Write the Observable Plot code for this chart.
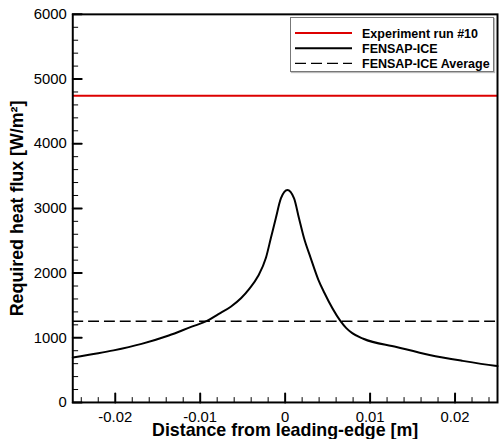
<!DOCTYPE html>
<html>
<head>
<meta charset="utf-8">
<script src="https://cdn.jsdelivr.net/npm/d3@7"></script>
<script src="https://cdn.jsdelivr.net/npm/@observablehq/plot@0.6"></script>
<style>
  html, body { margin: 0; padding: 0; overflow: hidden; background: #fff; }
  #wrap { position: relative; width: 499px; height: 443px; overflow: hidden; font-family: "Liberation Sans", Arial, sans-serif; }
  #legend { position: absolute; left: 290px; top: 17px; width: 204px; height: 55px; box-sizing: border-box; border: 1px solid #777; background: #fff; box-shadow: 1px 1px 1px #bbb; }
  #legend svg { display: block; }
</style>
</head>
<body>
<div id="wrap"></div>
<script>
// Data
const distance = [-0.025, -0.022, -0.0202, -0.0169, -0.0137, -0.011, -0.0092, -0.0079, -0.0064, -0.0052, -0.0042, -0.0032, -0.00226, -0.00168, -0.0011, -0.0005, 0.00027, 0.00105, 0.00163, 0.00222, 0.003, 0.0039, 0.0046, 0.0065, 0.0072, 0.0079, 0.0092, 0.0131, 0.017, 0.0209, 0.0247, 0.025];
const heatFlux = [694, 760, 805, 906, 1035, 1172, 1260, 1362, 1480, 1610, 1760, 1950, 2236, 2542, 2848, 3155, 3285, 3155, 2848, 2542, 2236, 1900, 1700, 1262, 1150, 1072, 985, 858, 735, 643, 567, 562];
const experimentValue = 4740;
const averageValue = 1256;
const xMajorTicks = [-0.02, -0.01, 0, 0.01, 0.02];
const xMinorTicks = d3.range(-24, 25, 2).map(d => d / 1000).filter(d => Math.abs(Math.round(d * 1000)) % 10 !== 0);
const yMajorTicks = [0, 1000, 2000, 3000, 4000, 5000, 6000];
const yMinorTicks = d3.range(0, 6001, 200).filter(d => d % 1000 !== 0);
const legendLabels = ["Experiment run #10", "FENSAP-ICE", "FENSAP-ICE Average"];

const curve = distance.map((d, i) => ({x: d, y: heatFlux[i]}));
const tickUp = {draw(context, l) { context.moveTo(0, 0); context.lineTo(0, -l); }};

const chart = Plot.plot({
  width: 504,
  height: 443,
  marginLeft: 73,
  marginRight: 2,
  marginTop: 14,
  marginBottom: 37,
  style: {fontFamily: '"Liberation Sans", Arial, sans-serif', fontSize: "15px", color: "#000", background: "#fff"},
  x: {domain: [-0.025, 0.025]},
  y: {domain: [0, 6000]},
  marks: [
    Plot.ruleY([experimentValue], {stroke: "#dd0000", strokeWidth: 2}),
    Plot.ruleY([averageValue], {stroke: "#000", strokeWidth: 1.4, strokeDasharray: "11,5"}),
    Plot.line(curve, {x: "x", y: "y", stroke: "#000", strokeWidth: 2, curve: "monotone-x"}),
    Plot.frame({stroke: "#000", strokeWidth: 2}),
    // inward ticks
    Plot.vector(xMajorTicks, {x: d => d, frameAnchor: "bottom", length: 9, rotate: 0, anchor: "start", shape: tickUp, stroke: "#000", strokeWidth: 2}),
    Plot.vector(xMinorTicks, {x: d => d, frameAnchor: "bottom", length: 5, rotate: 0, anchor: "start", shape: tickUp, stroke: "#000", strokeWidth: 1}),
    Plot.vector(yMajorTicks, {y: d => d, frameAnchor: "left", length: 9, rotate: 90, anchor: "start", shape: tickUp, stroke: "#000", strokeWidth: 2}),
    Plot.vector(yMinorTicks, {y: d => d, frameAnchor: "left", length: 5, rotate: 90, anchor: "start", shape: tickUp, stroke: "#000", strokeWidth: 1}),
    Plot.axisX({ticks: xMajorTicks, tickSize: 0, tickPadding: 9, tickFormat: d => d === 0 ? "0" : String(d), fontSize: 15,
      label: "Distance from leading-edge [m]", labelAnchor: "center", labelArrow: "none", labelOffset: 34}),
    Plot.axisY({ticks: yMajorTicks, tickSize: 0, tickPadding: 6, tickFormat: d => String(d), fontSize: 15,
      label: "Required heat flux [W/m²]", labelAnchor: "center", labelArrow: "none", labelOffset: 63})
  ]
});

// Bold axis titles only
chart.querySelectorAll("g[aria-label='x-axis label'] text, g[aria-label='y-axis label'] text").forEach(t => {
  t.setAttribute("font-weight", "bold");
  t.setAttribute("font-size", "18");
});

const wrap = document.getElementById("wrap");
wrap.appendChild(chart);

// Legend overlay
const legend = document.createElement("div");
legend.id = "legend";
const styles = [
  {stroke: "#dd0000", dash: null, w: 2},
  {stroke: "#000", dash: null, w: 2},
  {stroke: "#000", dash: "11,5", w: 1.4}
];
let svg = `<svg width="202" height="53" xmlns="http://www.w3.org/2000/svg">`;
legendLabels.forEach((lab, i) => {
  const y = 15 + i * 15.2;
  const s = styles[i];
  svg += `<line x1="4" x2="61" y1="${y}" y2="${y}" stroke="${s.stroke}" stroke-width="${s.w}" ${s.dash ? `stroke-dasharray="${s.dash}"` : ""}/>`;
  svg += `<text x="71" y="${y + 4.5}" font-family="Liberation Sans, Arial, sans-serif" font-weight="bold" font-size="12.5" fill="#000">${lab}</text>`;
});
svg += `</svg>`;
legend.innerHTML = svg;
wrap.appendChild(legend);
</script>
</body>
</html>
